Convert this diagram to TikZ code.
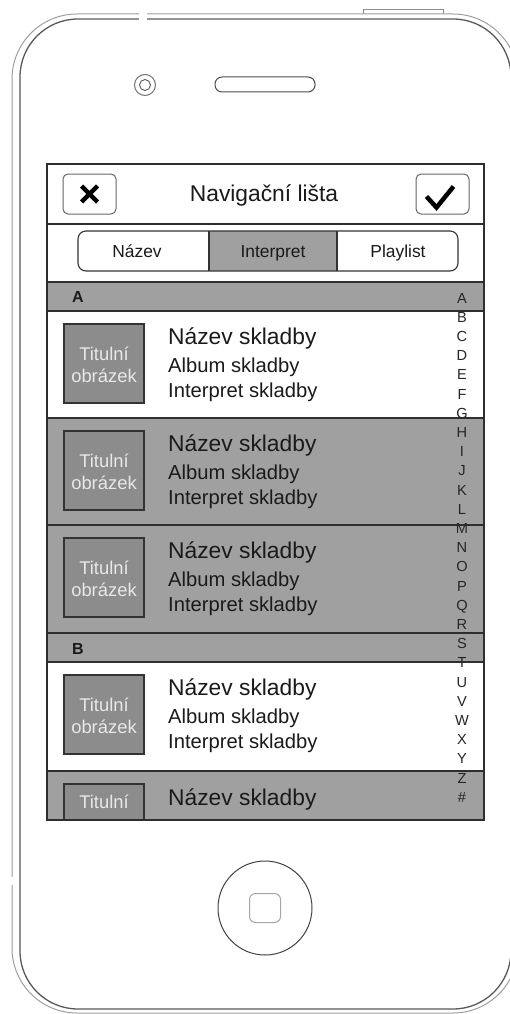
\documentclass[tikz,border=0pt]{standalone}
\usepackage{fontspec}
\setmainfont{Liberation Sans}
\definecolor{rowgray}{HTML}{A0A0A0}
\definecolor{thumbgray}{HTML}{8C8C8C}
\definecolor{thumbtext}{HTML}{E8E8E8}
\definecolor{ink}{HTML}{1A1A1A}
\newcommand\setfs[1]{\fontsize{#1pt}{#1pt}\selectfont}
\begin{document}
\begin{tikzpicture}[x=1pt,y=-1pt,
  every node/.style={inner sep=0pt, text=ink},
  bodyouter/.style={draw=black!38, line width=1pt, rounded corners=65pt},
  bodyinner/.style={draw=black!65, line width=1.3pt, rounded corners=58pt},
  screenframe/.style={draw=black!82, line width=1.5pt},
  rowsep/.style={draw=black!82, line width=1.3pt},
  iconbtn/.style={draw=black!60, line width=1pt, rounded corners=5pt, minimum width=53pt, minimum height=40pt, fill=white},
  glyph/.style={line width=4.5pt, draw=black},
  thumbbox/.style={draw=black!80, fill=thumbgray, line width=1.2pt, minimum width=80pt, minimum height=79pt},
  thumbtxt/.style={anchor=base, text=thumbtext, font=\setfs{18.4}},
  songname/.style={anchor=base west, font=\setfs{22.8}},
  songinfo/.style={anchor=base west, font=\setfs{20.2}},
  seglabel/.style={anchor=base, font=\setfs{17.4}},
  headlabel/.style={anchor=base west, font=\bfseries\setfs{16}},
  idxletter/.style={anchor=base, font=\setfs{14.6}, text=black!85},
  segline/.style={draw=black!80, line width=1.1pt},
]
\useasboundingbox (0,0) rectangle (510,1014);
\clip (0,0) rectangle (510,1014);

% phone body: double outline with small breaks and the top button
\draw[bodyouter] (12,14) rectangle (518,1013);
\draw[bodyinner] (20,19) rectangle (511,1009);
\fill[white] (139,10) rectangle (147,23);
\fill[white] (9,877) rectangle (15,885);
\draw[draw=black!45, line width=0.9pt] (363,14) -- (363,9) -- (443,9) -- (443,14);

% camera and speaker
\node[circle, draw=black!55, line width=1pt, minimum size=21pt] (camera) at (145,85) {};
\node[circle, draw=black!65, line width=0.9pt, minimum size=11pt] (lens) at (camera) {};
\node[draw=black!70, line width=1pt, rounded corners=7pt, minimum width=100pt, minimum height=15pt] (speaker) at (265,84.5) {};

% screen background and list bands
\fill[white] (47,164) rectangle (484,820);
\fill[rowgray] (47,282) rectangle (484,311);
\fill[rowgray] (47,418) rectangle (484,662);
\fill[rowgray] (47,771) rectangle (484,820);
\foreach \y in {224,282,311,418,525,633,662,771}
  \draw[rowsep] (47,\y) -- (484,\y);

% navigation bar
\node[iconbtn] (cancel) at (89.5,194) {};
\draw[glyph] (cancel.center) ++(-8,-8) -- ++(16,16);
\draw[glyph] (cancel.center) ++(-8,8) -- ++(16,-16);
\node[iconbtn] (confirm) at (442.5,194) {};
\draw[glyph, line join=miter] (confirm.center) ++(-16,2.5) -- ++(10,11) -- ++(17,-21);
\node[anchor=base, font=\setfs{22.8}] (navtitle) at (264,201) {Navigační lišta};

% segmented control
\fill[rowgray] (209,231) rectangle (337,271);
\draw[segline, rounded corners=8pt] (78,231) rectangle (458,271);
\draw[segline] (209,231) -- (209,271) (337,231) -- (337,271);
\node[seglabel] (segname) at (137,257) {Název};
\node[seglabel] (segartist) at (273,257) {Interpret};
\node[seglabel] (segplaylist) at (398,257) {Playlist};

% section headers
\node[headlabel] (hdrA) at (72,302) {A};
\node[headlabel] (hdrB) at (72,654) {B};

% song rows
\foreach \t [count=\r] in {311,418,525,662} {
  \node[thumbbox] (thumb\r) at (104,\t+52.5) {};
  \node[thumbtxt] (thumbA\r) at (104,\t+49) {Titulní};
  \node[thumbtxt] (thumbB\r) at (104,\t+71) {obrázek};
  \node[songname] (song\r) at (168,\t+33) {Název skladby};
  \node[songinfo] (album\r) at (168,\t+61) {Album skladby};
  \node[songinfo] (artist\r) at (168,\t+86) {Interpret skladby};
}
% last, partly visible row
\node[thumbbox, minimum height=36pt] (thumb5) at (104,802) {};
\node[thumbtxt] (thumbA5) at (104,808) {Titulní};
\node[songname] (song5) at (168,805) {Název skladby};

% alphabet index
\foreach \L [count=\i from 0] in {A,B,C,D,E,F,G,H,I,J,K,L,M,N,O,P,Q,R,S,T,U,V,W,X,Y,Z,\#}
  \node[idxletter] (idx\i) at (462,303+19.2*\i) {\L};

% screen frame on top
\draw[screenframe] (47,164) rectangle (484,820);

% home button
\node[circle, draw=black!75, line width=1pt, minimum size=94pt] (home) at (265,908) {};
\node[draw=black!35, line width=1pt, rounded corners=6pt, minimum width=31pt, minimum height=29pt] (homekey) at (home) {};
\end{tikzpicture}
\end{document}
